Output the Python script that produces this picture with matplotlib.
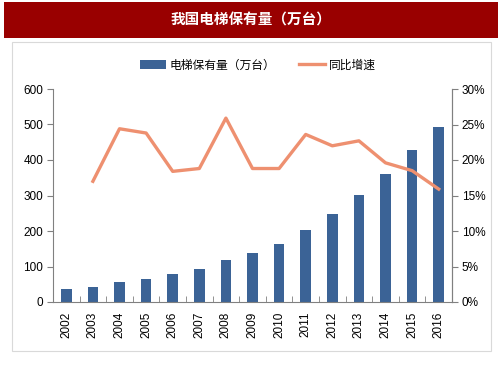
import matplotlib
matplotlib.use("Agg")
import matplotlib.pyplot as plt
from matplotlib.patches import Rectangle
from matplotlib.lines import Line2D
from matplotlib.patches import Patch

plt.rcParams['font.family'] = ['Liberation Sans', 'Noto Sans CJK SC', 'DejaVu Sans']

# ---------------------------------------------------------
# Datos
# ---------------------------------------------------------
years = ['2002', '2003', '2004', '2005', '2006', '2007', '2008', '2009',
         '2010', '2011', '2012', '2013', '2014', '2015', '2016']
stock = [36, 42, 55, 65, 79, 93, 117, 137, 164, 203, 247, 302, 361, 427, 493]
growth_years = years[1:]
growth = [17.0, 24.4, 23.8, 18.4, 18.8, 25.9, 18.8, 18.8, 23.6, 22.0, 22.7, 19.6, 18.5, 15.9]

title = '我国电梯保有量（万台）'
bar_label = '电梯保有量（万台）'
line_label = '同比增速'

bar_color = '#3B6396'
line_color = '#EE9070'
red = '#990000'
cjk = ['Noto Sans CJK SC', 'DejaVu Sans']

# ---------------------------------------------------------
# Figura
# ---------------------------------------------------------
W, H = 503, 378
fig = plt.figure(figsize=(W / 100, H / 100), dpi=100)

# banda roja del título
fig.patches.append(Rectangle((4 / W, 1 - 38 / H), 494 / W, 36 / H,
                             transform=fig.transFigure, facecolor=red,
                             edgecolor='none', zorder=-2))
fig.text(251 / W, 1 - 20 / H, title, color='white', fontsize=10.5,
         fontweight='bold', ha='center', va='center', family=cjk)

# panel blanco con borde gris
fig.patches.append(Rectangle((12 / W, 1 - 351 / H), 479 / W, 309 / H,
                             transform=fig.transFigure, facecolor='white',
                             edgecolor='#D9D9D9', linewidth=0.8, zorder=-2))

ax = fig.add_axes([53 / W, 76 / H, 399 / W, 213 / H])
x = list(range(len(years)))
ax.bar(x, stock, width=0.4, color=bar_color, zorder=2)
ax.set_xlim(-0.5, len(years) - 0.5)
ax.set_ylim(0, 600)
ax.set_yticks(range(0, 601, 100))
ax.set_xticks(x)
ax.set_xticklabels(years, rotation=90, fontsize=8.5)
ax.set_xticks([i + 0.5 for i in x[:-1]], minor=True)
ax.tick_params(axis='x', which='major', length=0, pad=7)
ax.tick_params(axis='x', which='minor', direction='in', length=4, color='#808080')
ax.tick_params(axis='y', labelsize=8.5, length=4, color='#808080', pad=3)
ax.spines['top'].set_visible(False)
for s in ['left', 'bottom', 'right']:
    ax.spines[s].set_color('#808080')
ax.patch.set_visible(False)

ax2 = ax.twinx()
gx = [years.index(y) for y in growth_years]
ax2.plot(gx, growth, color=line_color, linewidth=2.4, zorder=3)
ax2.set_ylim(0, 30)
ax2.set_yticks(range(0, 31, 5))
ax2.set_yticklabels([f'{v}%' for v in range(0, 31, 5)])
ax2.tick_params(axis='y', labelsize=8.5, length=4, color='#808080', pad=3)
ax2.spines['top'].set_visible(False)
ax2.spines['right'].set_color('#808080')
ax2.spines['left'].set_visible(False)
ax2.spines['bottom'].set_visible(False)

handles = [Patch(facecolor=bar_color, edgecolor='none', label=bar_label),
           Line2D([0], [0], color=line_color, linewidth=2.4, label=line_label)]
fig.legend(handles=handles, loc='center', bbox_to_anchor=(258 / W, 1 - 65 / H),
           ncol=2, frameon=False, prop={'family': cjk, 'size': 8.5},
           handlelength=2.2, handletextpad=0.3, columnspacing=2.0)

fig.savefig('out.png', dpi=100)
